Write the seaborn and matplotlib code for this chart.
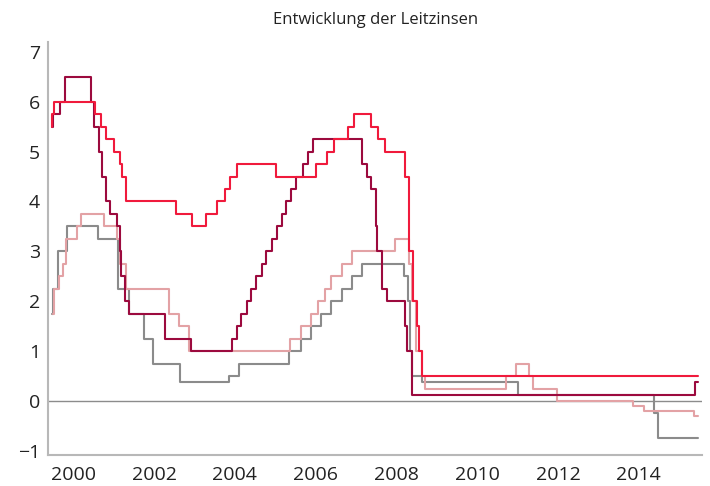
import matplotlib

matplotlib.use("Agg")
import matplotlib.pyplot as plt
import pandas as pd
import seaborn as sns

# step change points (year as shown on the chart's axis, rate in %)
END_YEAR = 2015.47

snb_x = [1999.47, 1999.50, 1999.61, 1999.84, 2000.62, 2001.10, 2001.39, 2001.76,
         2001.98, 2002.65, 2003.86, 2004.11, 2005.35, 2005.63, 2005.89, 2006.14,
         2006.39, 2006.64, 2006.89, 2007.14, 2008.19, 2008.29, 2008.33, 2008.38,
         2008.63, 2011.00, 2014.38, 2014.47]
snb_y = [1.75, 2.25, 3.0, 3.5, 3.25, 2.25, 1.75, 1.25,
         0.75, 0.375, 0.5, 0.75, 1.0, 1.25, 1.5, 1.75,
         2.0, 2.25, 2.5, 2.75, 2.5, 2.0, 1.0, 0.5,
         0.375, 0.125, -0.25, -0.75]

ezb_x = [1999.50, 1999.53, 1999.64, 1999.74, 1999.83, 2000.10, 2000.20, 2000.77,
         2001.08, 2001.15, 2001.30, 2002.37, 2002.62, 2002.87, 2005.37, 2005.63,
         2005.89, 2006.05, 2006.22, 2006.39, 2006.64, 2006.89, 2007.96, 2008.31,
         2008.38, 2008.49, 2008.63, 2008.71, 2010.72, 2010.96, 2011.28, 2011.38,
         2011.97, 2013.86, 2014.12, 2015.37]
ezb_y = [1.75, 2.25, 2.5, 2.75, 3.25, 3.5, 3.75, 3.5,
         3.25, 2.75, 2.25, 1.75, 1.5, 1.0, 1.25, 1.5,
         1.75, 2.0, 2.25, 2.5, 2.75, 3.0, 3.25, 2.75,
         2.0, 1.0, 0.5, 0.25, 0.5, 0.75, 0.5, 0.25,
         0.0, -0.1, -0.2, -0.3]

fed_x = [1999.47, 1999.49, 1999.66, 1999.80, 2000.45, 2000.51, 2000.64, 2000.72,
         2000.80, 2000.90, 2001.07, 2001.15, 2001.19, 2001.29, 2001.38, 2002.26,
         2002.91, 2003.93, 2004.05, 2004.16, 2004.30, 2004.39, 2004.53, 2004.66,
         2004.77, 2004.93, 2005.04, 2005.16, 2005.27, 2005.39, 2005.52, 2005.68,
         2005.80, 2005.93, 2007.14, 2007.27, 2007.38, 2007.50, 2007.53, 2007.65,
         2007.76, 2008.20, 2008.25, 2008.39, 2015.40]
fed_y = [5.5, 5.75, 6.0, 6.5, 6.0, 5.5, 5.0, 4.5,
         4.0, 3.75, 3.5, 3.0, 2.5, 2.0, 1.75, 1.25,
         1.0, 1.25, 1.5, 1.75, 2.0, 2.25, 2.5, 2.75,
         3.0, 3.25, 3.5, 3.75, 4.0, 4.25, 4.5, 4.75,
         5.0, 5.25, 4.75, 4.5, 4.25, 3.5, 3.0, 2.25,
         2.0, 1.5, 1.0, 0.125, 0.375]

boe_x = [1999.47, 1999.48, 1999.52, 2000.54, 2000.69, 2000.82, 2001.00, 2001.15,
         2001.20, 2001.30, 2002.53, 2002.93, 2003.28, 2003.56, 2003.76, 2003.88,
         2004.05, 2005.03, 2006.02, 2006.28, 2006.46, 2006.80, 2006.96, 2007.37,
         2007.54, 2007.72, 2008.20, 2008.31, 2008.42, 2008.52, 2008.57, 2008.63]
boe_y = [5.5, 5.75, 6.0, 5.75, 5.5, 5.25, 5.0, 4.75,
         4.5, 4.0, 3.75, 3.5, 3.75, 4.0, 4.25, 4.5,
         4.75, 4.5, 4.75, 5.0, 5.25, 5.5, 5.75, 5.5,
         5.25, 5.0, 4.5, 3.0, 2.0, 1.5, 1.0, 0.5]

banks = ["SNB", "EZB", "Fed", "BoE"]
colors = {"SNB": "#8b8b8b", "EZB": "#e3a2a5", "Fed": "#9c0a3e", "BoE": "#f01a3c"}

y_ticks = [-1, 0, 1, 2, 3, 4, 5, 6, 7]
x_ticks = [2000, 2002, 2004, 2006, 2008, 2010, 2012, 2014]


def to_frame(name, xs, ys):
    # repeat the last value so the final step runs to the end of the series
    return pd.DataFrame({"year": xs + [END_YEAR], "rate": ys + [ys[-1]], "bank": name})


frame = pd.concat(
    [
        to_frame("SNB", snb_x, snb_y),
        to_frame("EZB", ezb_x, ezb_y),
        to_frame("Fed", fed_x, fed_y),
        to_frame("BoE", boe_x, boe_y),
    ],
    ignore_index=True,
)

sns.set_style("white")
plt.rcParams["font.family"] = ["Open Sans", "DejaVu Sans"]

fig = plt.figure(figsize=(7.1, 4.86), dpi=100)
ax = fig.add_axes([0.068, 0.064, 0.921, 0.85])

ax.axhline(0, color="#8c8c8c", linewidth=1.0, zorder=1)
sns.lineplot(
    data=frame,
    x="year",
    y="rate",
    hue="bank",
    hue_order=banks,
    palette=colors,
    estimator=None,
    sort=False,
    drawstyle="steps-post",
    linewidth=1.5,
    legend=False,
    ax=ax,
)

ax.set_xlim(1999.38, 2015.57)
ax.set_ylim(-1.08, 7.2)
ax.set_xticks(x_ticks)
ax.set_yticks(y_ticks)
ax.set_yticklabels([str(t).replace("-", "\u2212") for t in y_ticks])
ax.set_xlabel("")
ax.set_ylabel("")
ax.set_title("Entwicklung der Leitzinsen", fontsize=12, color="#222222", pad=13)

sns.despine(ax=ax)
for side in ["left", "bottom"]:
    ax.spines[side].set_color("#b8b8b8")
    ax.spines[side].set_linewidth(1.5)
ax.tick_params(axis="both", colors="#b8b8b8", labelcolor="#222222",
               labelsize=14, length=4, width=1, direction="out")
ax.tick_params(axis="y", length=3, pad=3)
ax.tick_params(axis="x", pad=4)

fig.savefig("out.png", dpi=100)
